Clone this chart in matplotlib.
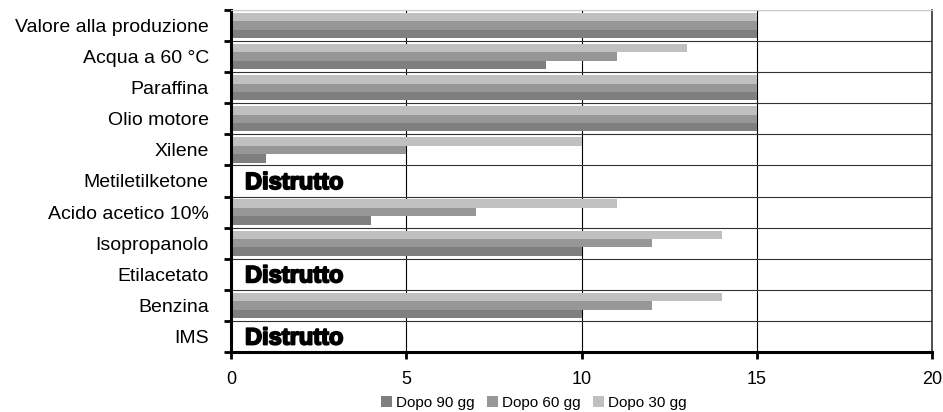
import numpy as np
import matplotlib.pyplot as plt
import matplotlib.patheffects as pe

plt.rcParams['font.family'] = ['Liberation Sans', 'DejaVu Sans']

categorie = ['Valore alla produzione', 'Acqua a 60 °C', 'Paraffina', 'Olio motore',
             'Xilene', 'Metiletilketone', 'Acido acetico 10%', 'Isopropanolo',
             'Etilacetato', 'Benzina', 'IMS']
dopo_30 = [15, 13, 15, 15, 10, 0, 11, 14, 0, 14, 0]
dopo_60 = [15, 11, 15, 15, 5, 0, 7, 12, 0, 12, 0]
dopo_90 = [15, 9, 15, 15, 1, 0, 4, 10, 0, 10, 0]
distrutto = ['Metiletilketone', 'Etilacetato', 'IMS']

fig = plt.figure(figsize=(9.43, 4.12), dpi=100)
ax = fig.add_axes([231/943, 1 - 352/412, (932-231)/943, (352-10)/412])

y = np.arange(len(categorie))
h = 0.27
b90 = ax.barh(y + h, dopo_90, height=h, color='#7f7f7f', label='Dopo 90 gg', zorder=2)
b60 = ax.barh(y, dopo_60, height=h, color='#979797', label='Dopo 60 gg', zorder=2)
b30 = ax.barh(y - h, dopo_30, height=h, color='#c0c0c0', label='Dopo 30 gg', zorder=2)

for c in distrutto:
    i = categorie.index(c)
    ax.text(0.4, i + 0.05, 'Distrutto', fontsize=17, fontweight='bold', va='center', ha='left',
            color='black', zorder=3,
            path_effects=[pe.withStroke(linewidth=1.3, foreground='black')])

ax.set_xlim(0, 20)
ax.set_xticks([0, 5, 10, 15, 20])
ax.set_ylim(len(categorie) - 0.5, -0.5)
ax.set_yticks(y)
ax.set_yticklabels(categorie, fontsize=14)
ax.set_yticks(np.arange(len(categorie) + 1) - 0.5, minor=True)
ax.tick_params(axis='y', which='major', length=0, pad=16)
ax.tick_params(axis='y', which='minor', length=5, width=2, direction='out')
ax.tick_params(axis='x', length=5, width=2, direction='out', labelsize=13, pad=9)

ax.grid(axis='x', color='black', linewidth=0.8, zorder=1)
ax.grid(axis='y', which='minor', color='#333333', linewidth=0.8, zorder=1)
ax.spines['left'].set_linewidth(2.2)
ax.spines['bottom'].set_linewidth(2.2)
ax.spines['right'].set_linewidth(1.2)
ax.spines['right'].set_color('#333333')
ax.spines['top'].set_color('#cccccc')

fig.legend(handles=[b90, b60, b30], loc='center', bbox_to_anchor=(534/943, 1 - 403/412),
           ncol=3, frameon=False, fontsize=11, handlelength=0.7, handleheight=0.7,
           handletextpad=0.3, columnspacing=0.8, borderaxespad=0)

fig.savefig('out.png', dpi=100)
